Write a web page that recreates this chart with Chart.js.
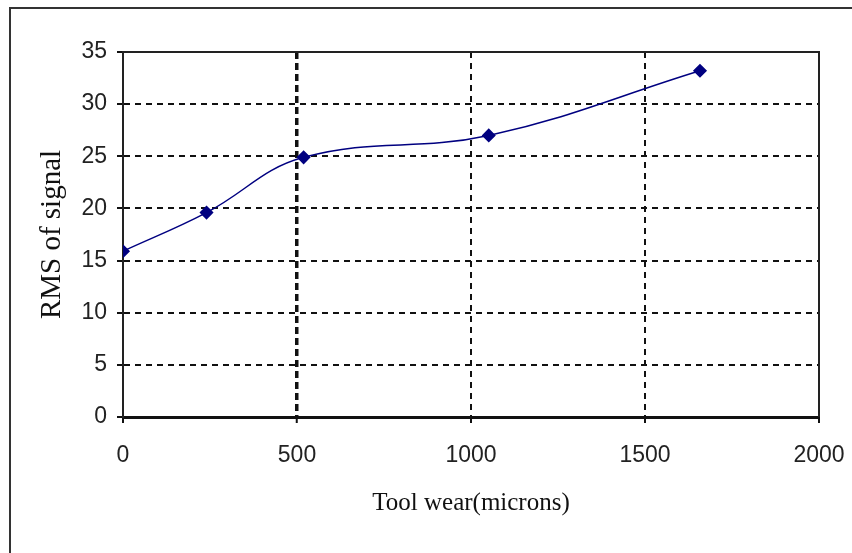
<!DOCTYPE html>
<html>
<head>
<meta charset="utf-8">
<script src="https://cdn.jsdelivr.net/npm/chart.js@4"></script>
<style>
  html, body { margin: 0; padding: 0; background: #fff; }
  #wrap { position: relative; width: 852px; height: 553px; overflow: hidden; }
  #frame { position: absolute; left: 9px; top: 7px; width: 900px; height: 600px;
           border-left: 2px solid #333; border-top: 2px solid #333; }
  canvas { position: absolute; left: 0; top: 0; }
</style>
</head>
<body>
<div id="wrap">
  <div id="frame"></div>
  <canvas id="chart" width="852" height="553"></canvas>
</div>
<script>
// Tool wear vs RMS of signal
const toolWear = [0, 240, 519, 1051, 1658];
const rmsSignal = [15.9, 19.6, 24.9, 27.0, 33.2];
const xTicks = [0, 500, 1000, 1500, 2000];
const yTicks = [0, 5, 10, 15, 20, 25, 30, 35];

// solid border on top and right side of plot area
const plotBorder = {
    id: 'plotBorder',
    beforeDatasetsDraw(chart) {
        const a = chart.chartArea;
        const ctx = chart.ctx;
        ctx.save();
        ctx.strokeStyle = '#222';
        ctx.lineWidth = 2;
        ctx.beginPath();
        ctx.moveTo(a.left, a.top);
        ctx.lineTo(a.right, a.top);
        ctx.lineTo(a.right, a.bottom);
        ctx.stroke();
        ctx.restore();
    }
};

const ctx = document.getElementById('chart').getContext('2d');
new Chart(ctx, {
    type: 'scatter',
    data: {
        datasets: [{
            data: toolWear.map((x, i) => ({ x: x, y: rmsSignal[i] })),
            showLine: true,
            borderColor: '#000080',
            backgroundColor: '#000080',
            borderWidth: 1.5,
            tension: 0.4,
            pointStyle: 'rectRot',
            pointRadius: 6,
            pointHoverRadius: 6
        }]
    },
    options: {
        responsive: false,
        animation: false,
        layout: { padding: { left: 31, right: 33, top: 52, bottom: 31 } },
        plugins: {
            legend: { display: false },
            tooltip: { enabled: false }
        },
        scales: {
            x: {
                type: 'linear',
                min: 0,
                max: 2000,
                afterBuildTicks: s => { s.ticks = xTicks.map(v => ({ value: v })); },
                afterFit: s => { s.height = 105; s.paddingLeft = 0; s.paddingRight = 0; },
                grid: {
                    color: c => (c.tick && (c.tick.value === 0 || c.tick.value === 2000)) ? 'rgba(0,0,0,0)' : '#111',
                    lineWidth: c => (c.tick && c.tick.value === 500) ? 3.5 : 2,
                    tickLength: 6,
                    tickColor: '#111',
                    tickWidth: 2
                },
                border: {
                    display: true,
                    color: '#111',
                    width: 3,
                    dash: c => (c.tick && c.tick.value === 500) ? [7, 4] : [6, 5]
                },
                ticks: {
                    padding: 19,
                    color: '#222',
                    maxRotation: 0,
                    callback: v => String(v),
                    font: { family: 'Liberation Sans', size: 23 }
                },
                title: {
                    display: true,
                    text: 'Tool wear(microns)',
                    color: '#111',
                    font: { family: 'Liberation Serif', size: 25 }
                }
            },
            y: {
                type: 'linear',
                min: 0,
                max: 35,
                afterBuildTicks: s => { s.ticks = yTicks.map(v => ({ value: v })); },
                afterFit: s => { s.width = 92; s.paddingTop = 0; s.paddingBottom = 0; },
                grid: {
                    color: c => (c.tick && (c.tick.value === 0 || c.tick.value === 35)) ? 'rgba(0,0,0,0)' : '#111',
                    lineWidth: 2,
                    tickLength: 6,
                    tickColor: '#111',
                    tickWidth: 2
                },
                border: {
                    display: true,
                    color: '#222',
                    width: 2,
                    dash: [6, 5]
                },
                ticks: {
                    padding: 10,
                    color: '#222',
                    font: { family: 'Liberation Sans', size: 23 }
                },
                title: {
                    display: true,
                    text: 'RMS of signal',
                    color: '#111',
                    font: { family: 'Liberation Serif', size: 29 }
                }
            }
        }
    },
    plugins: [plotBorder]
});
</script>
</body>
</html>
